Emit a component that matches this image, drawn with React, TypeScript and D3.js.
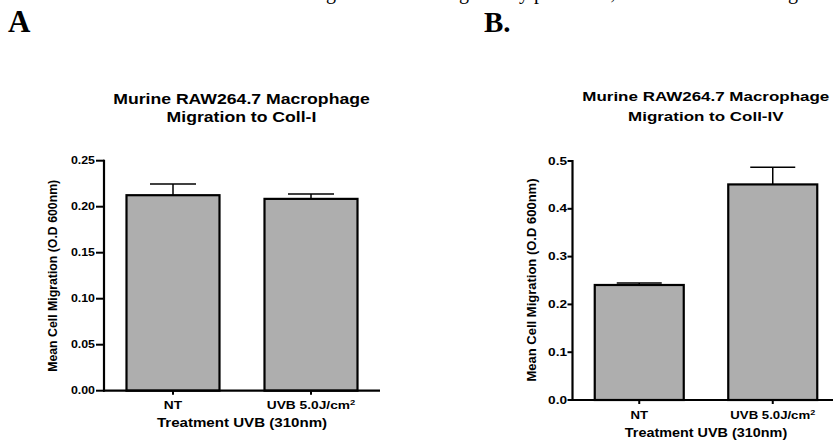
import React from "react";
import * as d3 from "d3";

// ---- data ----
const categories = ["NT", "UVB 5.0J/cm²"];
const titleA = ["Murine RAW264.7 Macrophage", "Migration to Coll-I"];
const titleB = ["Murine RAW264.7 Macrophage", "Migration to Coll-IV"];
const collIMean = [0.2125, 0.2085];
const collISem = [0.0122, 0.0053];
const collIVMean = [0.2406, 0.451];
const collIVSem = [0.0042, 0.036];
const ticksA = [0, 0.05, 0.1, 0.15, 0.2, 0.25];
const ticksB = [0, 0.1, 0.2, 0.3, 0.4, 0.5];
const yLabel = "Mean Cell Migration (O.D 600nm)";
const xLabel = "Treatment UVB (310nm)";
const panelLetters = ["A", "B."];
// descenders of the cropped line of text above the figure
const topGlyphs = [
  { ch: "g", x: 331 },
  { ch: "g", x: 464 },
  { ch: "y", x: 524 },
  { ch: "p", x: 539 },
  { ch: ",", x: 613 },
  { ch: "g", x: 793 },
];

const SANS = "'Liberation Sans', Arial, Helvetica, sans-serif";
const SERIF = "'Liberation Serif', 'Times New Roman', serif";

type PanelCfg = {
  title: string[];
  mean: number[];
  sem: number[];
  ticks: number[];
  fmt: string;
  yMax: number;
  x0: number;
  x1: number;
  yBottom: number;
  yTop: number;
  barW: number;
  capW: number;
  tickLen: number;
  labelGap: number;
  tickSize: number;
  tickSx: number;
  catSize: number;
  catSx: number;
  catY: number;
  xTitleSize: number;
  xTitleSx: number;
  xTitleY: number;
  titleSize: number;
  titleSx: number;
  titleX: number;
  titleY: number[];
  yLabX: number;
  yLabY: number;
  yLabSize: number;
  yLabSx: number;
};

function SText(props: {
  x: number;
  y: number;
  sx?: number;
  rotate?: number;
  anchor?: string;
  size: number;
  family?: string;
  dy?: string;
  children: React.ReactNode;
}) {
  const { x, y, sx = 1, rotate = 0, anchor = "middle", size, family = SANS, dy } = props;
  return (
    <text
      transform={`translate(${x},${y}) scale(${sx},1)${rotate ? ` rotate(${rotate})` : ""}`}
      textAnchor={anchor as any}
      fontSize={size}
      fontFamily={family}
      fontWeight="bold"
      fill="#000"
      dy={dy}
    >
      {props.children}
    </text>
  );
}

function CatLabel({ label, size }: { label: string; size: number }) {
  if (label.endsWith("²")) {
    return (
      <>
        {label.slice(0, -1)}
        <tspan fontSize={size * 0.68} dy={-size * 0.38}>
          2
        </tspan>
      </>
    );
  }
  return <>{label}</>;
}

function Panel({ c }: { c: PanelCfg }) {
  const y = d3.scaleLinear().domain([0, c.yMax]).range([c.yBottom, c.yTop]);
  const x = d3.scaleBand<string>().domain(categories).range([c.x0, c.x1]).padding(0);
  const fmt = d3.format(c.fmt);
  return (
    <g>
      {c.title.map((t, i) => (
        <SText key={i} x={c.titleX} y={c.titleY[i]} sx={c.titleSx} size={c.titleSize}>
          {t}
        </SText>
      ))}
      {/* bars */}
      {categories.map((cat, i) => {
        const cx = (x(cat) as number) + x.bandwidth() / 2;
        const top = y(c.mean[i]);
        const errTop = y(c.mean[i] + c.sem[i]);
        return (
          <g key={cat}>
            <line x1={cx} x2={cx} y1={top} y2={errTop} stroke="#000" strokeWidth={1.5} />
            <line x1={cx - c.capW / 2} x2={cx + c.capW / 2} y1={errTop} y2={errTop} stroke="#000" strokeWidth={1.5} />
            <rect
              x={cx - c.barW / 2}
              y={top}
              width={c.barW}
              height={c.yBottom - top}
              fill="#aeaeae"
              stroke="#000"
              strokeWidth={2.2}
            />
          </g>
        );
      })}
      {/* y axis */}
      <line x1={c.x0} x2={c.x0} y1={c.yTop - 1} y2={c.yBottom + 1} stroke="#000" strokeWidth={2.2} />
      {c.ticks.map((t) => (
        <g key={t}>
          <line x1={c.x0 - c.tickLen} x2={c.x0} y1={y(t)} y2={y(t)} stroke="#000" strokeWidth={2} />
          <SText x={c.x0 - c.tickLen - c.labelGap} y={y(t)} dy="0.35em" anchor="end" sx={c.tickSx} size={c.tickSize}>
            {fmt(t)}
          </SText>
        </g>
      ))}
      {/* x axis */}
      <line x1={c.x0 - 1} x2={c.x1} y1={c.yBottom} y2={c.yBottom} stroke="#000" strokeWidth={2.2} />
      {categories.map((cat) => {
        const cx = (x(cat) as number) + x.bandwidth() / 2;
        return (
          <g key={cat}>
            <line x1={cx} x2={cx} y1={c.yBottom} y2={c.yBottom + 4} stroke="#000" strokeWidth={2} />
            <SText x={cx} y={c.catY} sx={c.catSx} size={c.catSize}>
              <CatLabel label={cat} size={c.catSize} />
            </SText>
          </g>
        );
      })}
      <SText x={(c.x0 + c.x1) / 2} y={c.xTitleY} sx={c.xTitleSx} size={c.xTitleSize}>
        {xLabel}
      </SText>
      <SText x={c.yLabX} y={c.yLabY} sx={c.yLabSx} rotate={-90} size={c.yLabSize}>
        {yLabel}
      </SText>
    </g>
  );
}

const panelA: PanelCfg = {
  title: titleA,
  mean: collIMean,
  sem: collISem,
  ticks: ticksA,
  fmt: ".2f",
  yMax: 0.25,
  x0: 104,
  x1: 380,
  yBottom: 390.7,
  yTop: 160.7,
  barW: 93,
  capW: 46,
  tickLen: 8,
  labelGap: 1,
  tickSize: 10.5,
  tickSx: 1.18,
  catSize: 11,
  catSx: 1.25,
  catY: 409,
  xTitleSize: 12,
  xTitleSx: 1.26,
  xTitleY: 426.7,
  titleSize: 14,
  titleSx: 1.26,
  titleX: 241.5,
  titleY: [104, 122],
  yLabX: 57,
  yLabY: 275.8,
  yLabSize: 12.3,
  yLabSx: 1.05,
};

const panelB: PanelCfg = {
  title: titleB,
  mean: collIVMean,
  sem: collIVSem,
  ticks: ticksB,
  fmt: ".1f",
  yMax: 0.5,
  x0: 572.5,
  x1: 839.5,
  yBottom: 400,
  yTop: 161,
  barW: 89,
  capW: 45,
  tickLen: 5,
  labelGap: 0.5,
  tickSize: 10.5,
  tickSx: 1.3,
  catSize: 11,
  catSx: 1.2,
  catY: 419,
  xTitleSize: 12,
  xTitleSx: 1.2,
  xTitleY: 436.7,
  titleSize: 13.5,
  titleSx: 1.257,
  titleX: 705.8,
  titleY: [101.3, 120.7],
  yLabX: 536,
  yLabY: 280,
  yLabSize: 13,
  yLabSx: 1.0,
};

export default function App() {
  return (
    <div style={{ position: "absolute", left: 0, top: 0 }}>
      <svg width={833} height={440} style={{ display: "block", background: "#fff" }}>
        <rect width={833} height={440} fill="#fff" />
        {topGlyphs.map((g, i) => (
          <text key={i} x={g.x} y={-1.5} textAnchor="middle" fontFamily={SERIF} fontSize={20} fill="#000">
            {g.ch}
          </text>
        ))}
        <text x={8} y={32} fontFamily={SERIF} fontWeight="bold" fontSize={31} fill="#000">
          {panelLetters[0]}
        </text>
        <text x={484} y={32} fontFamily={SERIF} fontWeight="bold" fontSize={29} fill="#000">
          {panelLetters[1]}
        </text>
        <Panel c={panelA} />
        <Panel c={panelB} />
      </svg>
    </div>
  );
}
